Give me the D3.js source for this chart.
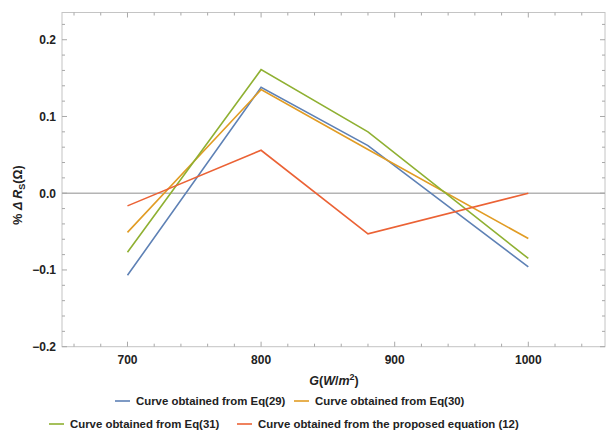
<!DOCTYPE html>
<html><head><meta charset="utf-8">
<script src="https://cdn.jsdelivr.net/npm/d3@7"></script>
<style>body{margin:0;background:#fff}svg{display:block}text{font-family:"Liberation Sans",Arial,sans-serif}</style>
</head><body><svg id="c" width="606" height="438"></svg>
<script>
const irradiance = [700, 800, 880, 1000];
const eq29 = [-0.107, 0.138, 0.062, -0.096];
const eq30 = [-0.051, 0.135, 0.057, -0.059];
const eq31 = [-0.077, 0.161, 0.080, -0.085];
const eq12 = [-0.0165, 0.056, -0.053, 0.0];
const seriesNames = ["Curve obtained from Eq(29)", "Curve obtained from Eq(30)", "Curve obtained from Eq(31)", "Curve obtained from the proposed equation (12)"];
const seriesColors = ["#5e81b5", "#e19c24", "#8fb032", "#eb6235"];
const xTicks = [700, 800, 900, 1000];
const yTicks = [-0.2, -0.1, 0.0, 0.1, 0.2];

const svg = d3.select("#c");
const L = 62, R = 605, T = 12.5, B = 346.7;
const x = d3.scaleLinear().domain([651, 1057.4]).range([L, R]);
const y = d3.scaleLinear().domain([-0.2, 0.2355]).range([B, T]);

svg.append("rect").attr("x", L).attr("y", T).attr("width", R - L).attr("height", B - T)
  .attr("fill", "none").attr("stroke", "#c4c4c4").attr("stroke-width", 1);

svg.append("line").attr("x1", L).attr("x2", R).attr("y1", y(0)).attr("y2", y(0))
  .attr("stroke", "#b4b4b4").attr("stroke-width", 1.6);

const tickCol = "#a8a8a8";
const xMinor = d3.range(660, 1060, 20);
const yMinor = d3.range(-20, 24, 2).map(d => d / 100);
function isMajorX(v){ return xTicks.indexOf(v) >= 0; }
function isMajorY(v){ return yTicks.some(t => Math.abs(t - v) < 1e-9); }

xMinor.forEach(v => {
  const len = isMajorX(v) ? 5 : 3;
  svg.append("line").attr("x1", x(v)).attr("x2", x(v)).attr("y1", B).attr("y2", B - len).attr("stroke", tickCol);
  svg.append("line").attr("x1", x(v)).attr("x2", x(v)).attr("y1", T).attr("y2", T + len).attr("stroke", tickCol);
});
yMinor.forEach(v => {
  const len = isMajorY(v) ? 5 : 3;
  svg.append("line").attr("y1", y(v)).attr("y2", y(v)).attr("x1", L).attr("x2", L + len).attr("stroke", tickCol);
  svg.append("line").attr("y1", y(v)).attr("y2", y(v)).attr("x1", R).attr("x2", R - len).attr("stroke", tickCol);
});

svg.selectAll(".xl").data(xTicks).enter().append("text")
  .attr("x", d => x(d)).attr("y", B + 17).attr("text-anchor", "middle")
  .attr("font-size", 12).attr("font-weight", "bold").attr("fill", "#222").text(d => d);
svg.selectAll(".yl").data(yTicks).enter().append("text")
  .attr("x", L - 6).attr("y", d => y(d) + 4.5).attr("text-anchor", "end")
  .attr("font-size", 12).attr("font-weight", "bold").attr("fill", "#222")
  .text(d => d3.format(".1f")(d).replace("-", "\u2212"));

const xl = svg.append("text").attr("x", 334).attr("y", 385).attr("text-anchor", "middle")
  .attr("font-size", 12.5).attr("font-weight", "bold").attr("fill", "#222");
xl.append("tspan").attr("font-style", "italic").text("G");
xl.append("tspan").text("(");
xl.append("tspan").attr("font-style", "italic").text("W");
xl.append("tspan").text("/");
xl.append("tspan").attr("font-style", "italic").text("m");
xl.append("tspan").attr("font-size", 9).attr("dy", -5).text("2");
xl.append("tspan").attr("dy", 5).text(")");

const yl = svg.append("text").attr("transform", "translate(22," + 195 + ") rotate(-90)")
  .attr("text-anchor", "middle").attr("font-size", 12.5).attr("font-weight", "bold").attr("fill", "#222");
yl.append("tspan").text("% ");
yl.append("tspan").attr("font-style", "italic").text("\u0394 R");
yl.append("tspan").attr("font-size", 9).attr("dy", 3).text("S");
yl.append("tspan").attr("dy", -3).text("(\u03a9)");

const allSeries = [eq29, eq30, eq31, eq12];
const line = d3.line().x((d, i) => x(irradiance[i])).y(d => y(d));
allSeries.forEach((s, k) => {
  svg.append("path").datum(s).attr("d", line).attr("fill", "none")
    .attr("stroke", seriesColors[k]).attr("stroke-width", 1.6);
});

const legendPos = [[115, 401], [294, 401], [49, 424], [237, 424]];
seriesNames.forEach((n, k) => {
  const [lx, ly] = legendPos[k];
  svg.append("line").attr("x1", lx).attr("x2", lx + 15).attr("y1", ly).attr("y2", ly)
    .attr("stroke", seriesColors[k]).attr("stroke-width", 1.6);
  svg.append("text").attr("x", lx + 21).attr("y", ly + 4).attr("font-size", 11.4)
    .attr("font-weight", "bold").attr("fill", "#222").text(n);
});
</script></body></html>
